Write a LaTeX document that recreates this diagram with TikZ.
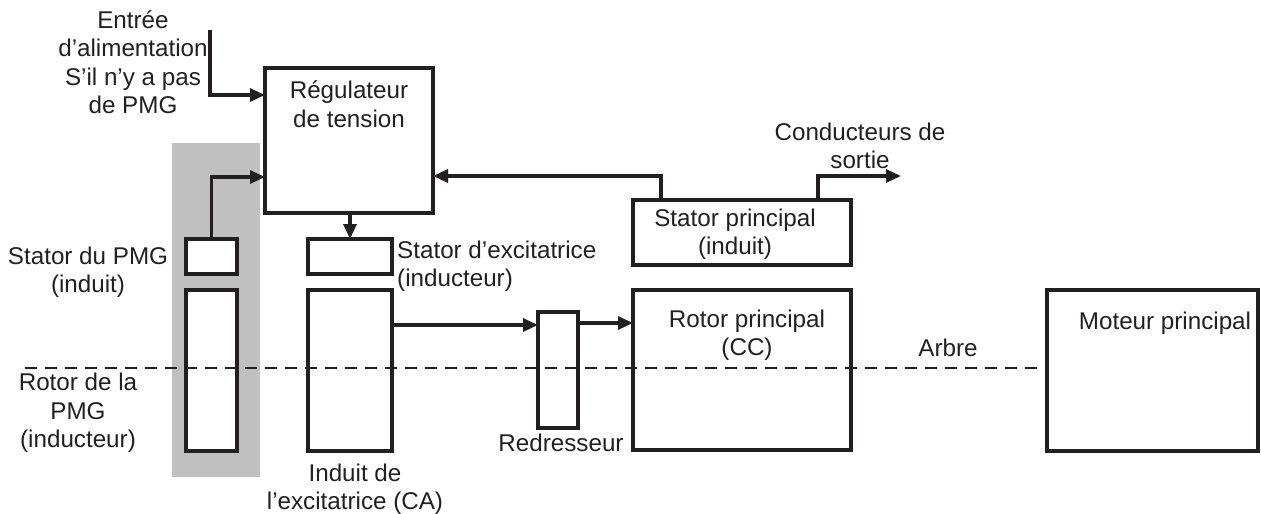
\documentclass[tikz,border=0pt]{standalone}
\usepackage{fontspec}
\setmainfont{Liberation Sans}
\usetikzlibrary{positioning,arrows.meta}
\definecolor{ink}{RGB}{35,31,32}
\definecolor{pmg-gray}{RGB}{192,192,192}
\tikzset{
	box/.style={draw=ink, fill=white, line width=3.8pt, rectangle, inner sep=0pt, outer sep=0pt, anchor=north west},
	txt/.style={text=ink, align=center, inner sep=0pt, font=\fontsize{24.2}{28.5}\selectfont},
	conn/.style={draw=ink, line width=3.2pt, -{Triangle[length=15pt,width=13pt]}},
	shaft/.style={draw=ink, line width=2.3pt, dash pattern=on 12pt off 8pt}
}

\begin{document}
\begin{tikzpicture}[x=1pt,y=-1pt]
	\useasboundingbox (0,0) rectangle (1261,514);
	
	%gray band behind the PMG
	\fill[pmg-gray] (172,143) rectangle (260,477);
	
	%boxes
	\node[box, minimum width=168pt, minimum height=145pt] (reg) at (265,68) {};
	\node[box, minimum width=51pt, minimum height=35pt] (pmgst) at (186,239) {};
	\node[box, minimum width=51pt, minimum height=161pt] (pmgrot) at (186,290) {};
	\node[box, minimum width=84pt, minimum height=35pt] (exst) at (308,239) {};
	\node[box, minimum width=84pt, minimum height=161pt] (exrot) at (308,290) {};
	\node[box, minimum width=40pt, minimum height=116pt] (red) at (538,312) {};
	\node[box, minimum width=218pt, minimum height=65pt] (statp) at (633,200) {};
	\node[box, minimum width=218pt, minimum height=160pt] (rotp) at (633,290) {};
	\node[box, minimum width=211pt, minimum height=161pt] (mot) at (1047,290) {};
	
	%shaft
	\coordinate (shaftL) at (25,368);
	\draw[shaft] (shaftL) -- (shaftL -| mot.west);
	
	%free ends
	\coordinate (pwr) at (210,30);
	\coordinate (out) at (901,176);
	
	%connectors
	\draw[conn] (pwr) |- ([yshift=-27pt]reg.north west);
	\draw[conn] (pmgst.north) |- ([yshift=-109pt]reg.north west);
	\draw[conn] (exst.north |- reg.south) -- (exst.north);
	\draw[conn] ([yshift=-35pt]exrot.north east) -- ([yshift=-35pt]exrot.north east -| red.west);
	\draw[conn] ([yshift=-11pt]red.north east) -- ([yshift=-11pt]red.north east -| rotp.west);
	\draw[conn] ([xshift=28pt]statp.north west) |- ([yshift=-108pt]reg.north east);
	\draw[conn] ([xshift=-33pt]statp.north east) |- (out);
	
	%texts
	\node[txt] (pwrtxt) at (133,62) {Entrée\\d’alimentation\\S’il n’y a pas\\de PMG};
	\node[txt] (regtxt) at (349,104) {Régulateur\\de tension};
	\node[txt] (condtxt) at (860,146) {Conducteurs de\\sortie};
	\node[txt] (statptxt) at (735,234) {Stator principal\\(induit)};
	\node[txt] (rotptxt) at (747,335) {Rotor principal\\(CC)};
	\node[txt, anchor=base] (mottxt) at (1165,329) {Moteur principal};
	\node[txt, anchor=base] (arbtxt) at (948,356) {Arbre};
	\node[txt, anchor=base] (redtxt) at (561,451) {Redresseur};
	\node[txt] (pmgsttxt) at (88,272) {Stator du PMG\\(induit)};
	\node[txt] (pmgrottxt) at (78,413) {Rotor de la\\PMG\\(inducteur)};
	\node[txt, anchor=west, align=left] (exsttxt) at (397,266) {Stator d’excitatrice\\(inducteur)};
	\node[txt] (exrottxt) at (355,489) {Induit de\\l’excitatrice (CA)};
\end{tikzpicture}
\end{document}
